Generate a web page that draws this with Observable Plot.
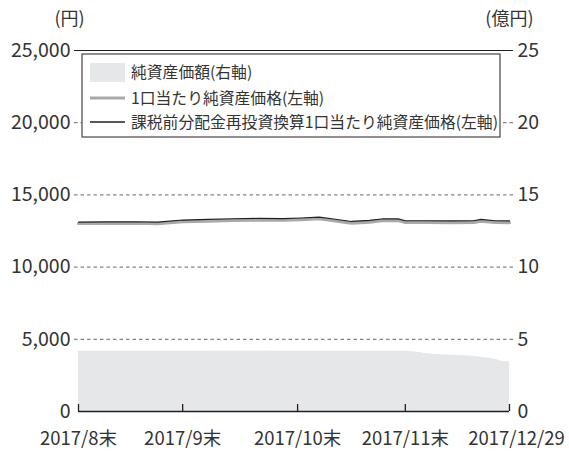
<!DOCTYPE html>
<html><head><meta charset="utf-8">
<script src="https://cdn.jsdelivr.net/npm/d3@7"></script>
<script src="https://cdn.jsdelivr.net/npm/@observablehq/plot@0.6"></script>
<style>body{margin:0;background:#fff}</style>
</head><body><div id="chart"></div>
<script>
// 1口当たり純資産価格 / 課税前分配金再投資換算 (円)
const lineDates = ["2017-08-31","2017-09-08","2017-09-15","2017-09-22","2017-09-29","2017-10-06","2017-10-13","2017-10-20","2017-10-27","2017-11-01","2017-11-06","2017-11-10","2017-11-15","2017-11-20","2017-11-24","2017-11-28","2017-11-30","2017-12-06","2017-12-13","2017-12-19","2017-12-21","2017-12-25","2017-12-29"];
const navPerUnit    = [13020,13030,13040,13005,13150,13190,13240,13260,13245,13285,13350,13215,13045,13115,13235,13225,13095,13095,13085,13095,13185,13095,13085];
const navReinvested = [13120,13130,13140,13110,13260,13300,13350,13370,13360,13400,13465,13330,13160,13230,13350,13340,13210,13210,13200,13210,13300,13210,13200];
// 純資産価額 (億円)
const areaDates = ["2017-08-31","2017-09-15","2017-09-29","2017-10-13","2017-10-31","2017-11-15","2017-11-30","2017-12-01","2017-12-04","2017-12-05","2017-12-08","2017-12-13","2017-12-18","2017-12-21","2017-12-25","2017-12-27","2017-12-29"];
const netAssets = [4.17,4.17,4.18,4.19,4.18,4.17,4.17,4.16,4.08,4.03,3.94,3.90,3.85,3.76,3.62,3.46,3.44];
const tickDates = ["2017-08-31","2017-09-29","2017-10-31","2017-11-30","2017-12-29"];
const tickLabels = ["2017/8末","2017/9末","2017/10末","2017/11末","2017/12/29"];
const yTicks = [0,5000,10000,15000,20000,25000];
const legendLabels = ["純資産価額(右軸)","1口当たり純資産価格(左軸)","課税前分配金再投資換算1口当たり純資産価格(左軸)"];
const unitLeft = "(円)", unitRight = "(億円)";

const lines = lineDates.map((d,i)=>({date:new Date(d), a:navPerUnit[i], b:navReinvested[i]}));
const area = areaDates.map((d,i)=>({date:new Date(d), v:netAssets[i]}));
const tdates = tickDates.map(d=>new Date(d));
const font = "'Noto Sans CJK JP', 'Noto Sans', sans-serif";
const ink = "#231f20";
const txt = "#333";

const chart = Plot.plot({
  width:569, height:454, marginLeft:78, marginRight:60, marginTop:50, marginBottom:43,
  style:{fontFamily:font, fontSize:"19px", color:txt, background:"#fff", overflow:"visible"},
  x:{type:"utc", domain:[tdates[0], tdates[tdates.length-1]], axis:null},
  y:{domain:[0,25000], axis:null},
  marks:[
    Plot.areaY(area,{x:"date", y:d=>d.v*1000, fill:"#e6e7e8"}),
    Plot.ruleY(yTicks.slice(1,5),{stroke:"#666", strokeDasharray:"3.5,3", strokeWidth:1, insetLeft:-4, insetRight:-4}),
    Plot.ruleY([25000],{stroke:ink, strokeWidth:1.2, insetLeft:-4, insetRight:-4}),
    Plot.ruleY([0],{stroke:ink, strokeWidth:1.3}),
    Plot.tickX(tdates,{x:d=>d, insetTop:354, stroke:ink, strokeWidth:1.3}),
    Plot.line(lines,{x:"date", y:"a", stroke:"#a7a9ac", strokeWidth:3.2}),
    Plot.line(lines,{x:"date", y:"b", stroke:ink, strokeWidth:1.2}),
    Plot.axisY(yTicks,{anchor:"left", tickSize:0, tickPadding:8, tickFormat:d3.format(","), fontSize:19.5, fill:txt}),
    Plot.axisY(yTicks,{anchor:"right", tickSize:0, tickPadding:8, tickFormat:d=>String(d/1000), fontSize:19.5, fill:txt}),
    Plot.text(tdates.slice(0,4),{x:d=>d, text:(d,i)=>tickLabels[i], frameAnchor:"bottom", dy:33, fontSize:18.5, fill:txt}),
    Plot.text(tdates.slice(4),{x:d=>d, text:()=>tickLabels[4], frameAnchor:"bottom", dy:33, dx:7, fontSize:18.5, fill:txt}),
    Plot.text([unitLeft],{frameAnchor:"top-left", dx:-9, dy:-38, textAnchor:"middle", fontSize:18, fill:txt}),
    Plot.text([unitRight],{frameAnchor:"top-right", dx:24, dy:-38, textAnchor:"end", fontSize:18, fill:txt})
  ]
});
document.getElementById("chart").appendChild(chart);

// legend
const svg = d3.select(chart);
const g = svg.append("g").attr("font-family", font).attr("font-size", 15.8).attr("fill", txt).attr("text-anchor","start");
g.append("rect").attr("x",82).attr("y",54).attr("width",418).attr("height",83).attr("fill","#fff").attr("stroke",ink).attr("stroke-width",1);
g.append("rect").attr("x",90).attr("y",63).attr("width",35).attr("height",19).attr("fill","#e6e7e8");
g.append("line").attr("x1",90).attr("x2",125).attr("y1",98).attr("y2",98).attr("stroke","#a7a9ac").attr("stroke-width",3);
g.append("line").attr("x1",90).attr("x2",125).attr("y1",122).attr("y2",122).attr("stroke",ink).attr("stroke-width",1.3);
[72,98,122].forEach((y,i)=>{
  g.append("text").attr("x",131).attr("y",y).attr("dy","0.35em").text(legendLabels[i]);
});
</script>
</body></html>
